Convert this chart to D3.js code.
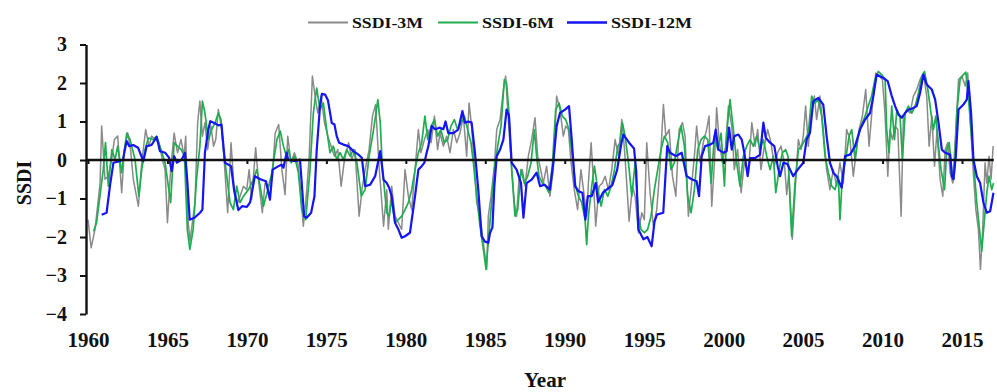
<!DOCTYPE html>
<html>
<head>
<meta charset="utf-8">
<script src="https://cdn.jsdelivr.net/npm/d3@7"></script>
<style>
  html, body { margin: 0; padding: 0; background: #fff; }
  svg { display: block; }
  text { font-family: "Liberation Serif", "Times New Roman", serif; font-weight: bold; fill: #111; }
</style>
</head>
<body>
<svg id="chart" width="997" height="392"></svg>
<script>
// ---------- data ----------
const xTickYears = [1960, 1965, 1970, 1975, 1980, 1985, 1990, 1995, 2000, 2005, 2010, 2015];
const yTickValues = [-4, -3, -2, -1, 0, 1, 2, 3];
const seriesNames = ["SSDI-3M", "SSDI-6M", "SSDI-12M"];
const seriesColors = ["#8a8a8a", "#1fae4f", "#1414f5"];

// [decimal year, SSDI]
const ssdi3M = [
[1960.0,-1.55],[1960.2,-2.28],[1960.44,-1.8],[1960.65,-1.03],[1960.76,-0.6],[1960.86,0.88],[1961.07,-0.5],[1961.28,-0.42],[1961.49,0.01],[1961.66,0.53],[1961.87,0.62],
[1962.12,-0.85],[1962.29,0.27],[1962.5,0.7],[1962.68,0.27],[1962.85,-0.5],[1963.17,-1.2],[1963.38,-0.07],[1963.63,0.79],[1963.84,0.36],[1964.0,0.62],[1964.25,0.53],
[1964.46,0.45],[1964.68,0.01],[1964.85,-0.25],[1965.0,-1.63],[1965.2,-0.25],[1965.42,0.7],[1965.63,0.19],[1965.85,0.53],[1966.05,0.1],[1966.15,0.62],[1966.27,-1.46],
[1966.42,-2.1],[1966.73,-1.11],[1966.9,0.97],[1967.04,1.53],[1967.2,0.62],[1967.36,0.97],[1967.53,0.27],[1967.74,0.88],[1967.9,0.36],[1968.04,0.53],[1968.2,1.31],
[1968.42,0.79],[1968.58,-0.07],[1968.79,-1.37],[1969.0,0.45],[1969.2,-0.77],[1969.42,-1.11],[1969.57,-0.94],[1969.78,-0.68],[1969.99,-0.77],[1970.14,-0.25],[1970.3,-1.03],
[1970.55,0.32],[1970.72,-0.5],[1970.97,-1.37],[1971.14,-0.6],[1971.36,-0.68],[1971.6,-0.42],[1971.78,0.7],[1972.0,0.92],[1972.2,-0.25],[1972.4,-0.9],[1972.57,0.62],
[1972.78,-0.07],[1972.99,0.19],[1973.2,-0.07],[1973.35,-0.68],[1973.55,-1.72],[1973.7,-1.11],[1973.91,0.01],[1974.12,2.18],[1974.29,1.66],[1974.46,1.22],[1974.67,1.66],
[1974.88,0.97],[1975.09,0.62],[1975.3,0.36],[1975.51,0.1],[1975.72,0.27],[1975.93,-0.68],[1976.14,0.01],[1976.4,0.45],[1976.6,0.01],[1976.8,0.27],[1977.06,-1.46],
[1977.27,-0.68],[1977.44,-0.25],[1977.69,0.27],[1977.9,1.14],[1978.1,1.44],[1978.3,-0.07],[1978.6,-1.72],[1978.8,-0.77],[1978.9,-1.8],[1979.11,-0.68],[1979.32,-1.46],
[1979.53,-1.63],[1979.74,-1.8],[1979.95,-0.25],[1980.16,-0.94],[1980.37,-1.29],[1980.58,-0.25],[1980.79,0.79],[1980.95,0.19],[1981.17,0.53],[1981.38,0.79],[1981.59,0.45],
[1981.8,1.14],[1982.0,0.27],[1982.15,0.7],[1982.36,0.36],[1982.57,0.62],[1982.78,0.19],[1982.99,0.79],[1983.2,0.45],[1983.41,0.7],[1983.62,1.14],[1983.83,0.1],
[1983.98,1.48],[1984.14,0.88],[1984.3,-0.07],[1984.46,-1.11],[1984.67,-1.46],[1984.88,-2.15],[1985.09,-2.84],[1985.19,-1.46],[1985.36,-0.94],[1985.57,-0.16],[1985.72,0.79],
[1985.93,1.05],[1986.14,1.83],[1986.28,2.18],[1986.45,1.05],[1986.62,0.01],[1986.83,-1.11],[1986.97,-1.46],[1987.12,-0.5],[1987.33,-0.25],[1987.5,-0.68],[1987.71,0.1],
[1987.92,0.53],[1988.13,1.1],[1988.3,0.1],[1988.44,-0.16],[1988.65,-0.6],[1988.86,-0.16],[1989.07,-0.94],[1989.28,-0.25],[1989.49,1.66],[1989.7,1.31],[1989.91,0.62],
[1990.06,0.88],[1990.23,0.79],[1990.4,-0.07],[1990.6,-0.77],[1990.81,-1.29],[1991.02,-0.25],[1991.23,-0.94],[1991.38,-1.46],[1991.49,-0.6],[1991.66,0.45],[1991.8,-0.5],
[1991.95,-1.72],[1992.16,-0.68],[1992.37,-0.6],[1992.54,-0.42],[1992.75,-0.77],[1992.96,-0.25],[1993.17,0.53],[1993.38,0.1],[1993.59,1.05],[1993.76,0.27],[1993.9,-0.6],
[1994.05,-1.59],[1994.26,-0.68],[1994.43,-0.94],[1994.64,-1.89],[1994.85,-1.37],[1995.01,-1.55],[1995.16,0.45],[1995.37,-0.85],[1995.58,-1.72],[1995.79,-1.29],[1996.0,-0.16],
[1996.21,1.44],[1996.36,0.62],[1996.57,0.79],[1996.78,-0.42],[1996.99,-0.94],[1997.2,0.79],[1997.41,0.97],[1997.57,0.62],[1997.78,-1.46],[1997.95,-0.77],[1998.16,0.1],
[1998.3,0.88],[1998.52,-0.07],[1998.72,0.45],[1998.93,0.79],[1999.08,1.14],[1999.25,-1.2],[1999.42,-0.07],[1999.56,1.36],[1999.71,0.53],[1999.92,-0.07],[2000.13,0.36],
[2000.3,1.4],[2000.51,0.88],[2000.67,-0.25],[2000.88,0.27],[2001.1,-0.85],[2001.3,-0.07],[2001.56,-0.33],[2001.77,0.97],[2001.98,0.36],[2002.14,0.79],[2002.35,-0.25],
[2002.56,0.36],[2002.77,0.79],[2002.98,0.45],[2003.19,-0.16],[2003.4,0.19],[2003.61,0.36],[2003.82,-0.07],[2003.97,-0.9],[2004.1,-0.33],[2004.32,-2.06],[2004.53,-0.6],
[2004.7,0.53],[2004.87,0.27],[2005.01,0.62],[2005.16,1.4],[2005.33,0.36],[2005.5,1.14],[2005.71,1.66],[2005.85,1.05],[2006.06,1.66],[2006.27,0.79],[2006.48,-0.25],
[2006.69,-0.77],[2006.9,-0.25],[2007.11,-0.68],[2007.32,-0.07],[2007.53,-0.6],[2007.74,0.79],[2007.95,0.53],[2008.16,-0.42],[2008.31,0.1],[2008.52,0.79],[2008.73,1.14],
[2008.94,1.83],[2009.15,0.36],[2009.36,1.4],[2009.57,2.26],[2009.78,2.18],[2009.99,2.09],[2010.15,1.22],[2010.33,-0.42],[2010.47,0.79],[2010.62,0.53],[2010.79,0.88],
[2010.96,0.79],[2011.17,-1.46],[2011.31,1.14],[2011.52,1.31],[2011.73,1.22],[2011.94,1.66],[2012.15,1.83],[2012.36,2.09],[2012.57,2.26],[2012.78,1.66],[2012.93,0.36],
[2013.1,1.14],[2013.27,-0.16],[2013.43,0.79],[2013.62,-0.5],[2013.79,-0.94],[2013.94,0.27],[2014.1,0.45],[2014.25,-0.33],[2014.42,-0.6],[2014.61,0.79],[2014.78,2.09],
[2014.99,2.18],[2015.2,1.92],[2015.36,2.26],[2015.53,0.97],[2015.7,-0.25],[2015.87,-1.29],[2016.03,-1.8],[2016.16,-2.84],[2016.3,-1.8],[2016.45,-0.07],[2016.56,-0.6],
[2016.7,0.1],[2016.83,-0.5],[2016.96,0.36]
];

const ssdi6M = [
[1960.35,-1.85],[1960.54,-1.63],[1960.75,-0.94],[1960.96,-0.25],[1961.1,0.45],[1961.28,-0.68],[1961.5,0.27],[1961.7,0.01],[1961.87,0.36],[1962.12,-0.33],[1962.29,0.27],
[1962.44,0.7],[1962.65,0.53],[1962.96,0.01],[1963.2,-0.94],[1963.38,-0.25],[1963.59,0.27],[1963.8,0.57],[1964.1,0.53],[1964.32,0.62],[1964.59,0.27],[1964.85,-0.07],
[1965.2,-1.11],[1965.42,0.45],[1965.63,0.36],[1965.87,0.27],[1966.07,0.1],[1966.25,-1.8],[1966.41,-2.32],[1966.62,-1.8],[1966.83,-0.5],[1967.04,0.36],[1967.2,1.53],
[1967.36,1.22],[1967.57,0.53],[1967.78,0.79],[1968.0,0.97],[1968.2,1.22],[1968.37,1.05],[1968.5,0.36],[1968.73,-0.42],[1968.94,-1.11],[1969.15,-1.29],[1969.36,-0.68],
[1969.57,-1.11],[1969.78,-0.94],[1970.1,-0.77],[1970.41,-0.5],[1970.62,-0.25],[1970.83,-0.68],[1971.04,-1.2],[1971.32,-0.77],[1971.57,-0.33],[1971.89,0.53],[1972.1,0.75],
[1972.3,0.36],[1972.5,0.1],[1972.6,0.27],[1972.8,-0.07],[1973.0,0.1],[1973.24,-0.33],[1973.45,-1.29],[1973.7,-1.55],[1973.97,-0.25],[1974.18,1.22],[1974.39,1.87],
[1974.6,1.31],[1974.81,1.48],[1975.02,0.79],[1975.23,0.19],[1975.44,0.36],[1975.65,0.01],[1975.86,0.19],[1976.07,0.01],[1976.28,0.27],[1976.5,0.1],[1976.7,0.27],
[1976.92,-0.07],[1977.2,-0.94],[1977.44,-0.77],[1977.69,0.1],[1977.97,0.79],[1978.24,1.57],[1978.39,0.97],[1978.53,-0.25],[1978.8,-1.37],[1978.95,-1.46],[1979.11,-1.03],
[1979.32,-1.63],[1979.53,-1.55],[1979.74,-1.46],[1979.95,-1.29],[1980.16,-1.11],[1980.37,-0.77],[1980.58,-0.25],[1980.79,0.19],[1981.0,0.45],[1981.2,1.14],[1981.38,0.53],
[1981.59,0.88],[1981.8,1.05],[1982.0,0.62],[1982.2,0.79],[1982.42,0.45],[1982.63,0.53],[1982.84,0.88],[1983.05,1.05],[1983.26,0.79],[1983.47,0.97],[1983.68,1.14],
[1983.89,0.79],[1984.1,0.45],[1984.25,-0.07],[1984.46,-0.94],[1984.67,-1.72],[1984.88,-2.32],[1985.05,-2.84],[1985.15,-2.32],[1985.36,-1.29],[1985.57,-0.25],[1985.78,0.36],
[1985.99,0.88],[1986.2,2.09],[1986.34,2.0],[1986.49,1.22],[1986.66,-0.25],[1986.87,-1.46],[1987.04,-1.29],[1987.25,-0.25],[1987.46,-0.6],[1987.67,-0.42],[1987.88,-0.07],
[1988.09,0.79],[1988.23,0.1],[1988.38,-0.42],[1988.59,-0.6],[1988.8,-0.68],[1989.0,-0.85],[1989.22,-0.16],[1989.43,1.31],[1989.64,1.48],[1989.85,1.14],[1990.06,1.05],
[1990.27,0.79],[1990.48,0.1],[1990.69,-0.68],[1990.86,-0.94],[1991.07,-1.11],[1991.28,-1.55],[1991.38,-2.2],[1991.49,-1.46],[1991.7,-0.68],[1991.87,-0.16],[1992.08,-0.77],
[1992.29,-1.2],[1992.5,-0.77],[1992.71,-0.94],[1992.92,-0.68],[1993.13,-0.25],[1993.34,0.36],[1993.48,0.45],[1993.63,0.97],[1993.8,0.62],[1994.01,-0.07],[1994.22,-0.94],
[1994.43,-0.07],[1994.64,-1.46],[1994.8,-1.8],[1995.01,-1.89],[1995.22,-1.8],[1995.43,-1.46],[1995.64,-0.77],[1995.85,-0.25],[1996.06,0.27],[1996.27,0.62],[1996.48,0.45],
[1996.69,-0.25],[1996.9,-0.07],[1997.11,0.45],[1997.32,0.88],[1997.53,0.36],[1997.74,-0.94],[1997.95,-1.37],[1998.16,-0.77],[1998.37,0.27],[1998.58,0.53],[1998.79,0.62],
[1999.0,0.53],[1999.21,-0.6],[1999.42,0.62],[1999.63,0.27],[1999.84,0.7],[2000.05,-0.68],[2000.19,0.7],[2000.4,1.57],[2000.61,0.79],[2000.82,-0.07],[2001.03,-0.68],
[2001.24,0.1],[2001.45,0.36],[2001.66,0.53],[2001.87,0.36],[2002.08,0.62],[2002.29,0.27],[2002.5,0.53],[2002.71,0.1],[2002.92,-0.25],[2003.13,0.1],[2003.28,-0.85],
[2003.49,-0.25],[2003.7,0.19],[2003.9,0.27],[2004.05,0.1],[2004.28,-1.98],[2004.49,-0.6],[2004.7,0.27],[2004.91,0.36],[2005.12,0.53],[2005.33,0.7],[2005.54,1.66],
[2005.75,1.48],[2005.96,1.57],[2006.17,1.14],[2006.38,0.1],[2006.59,-0.33],[2006.8,-0.68],[2007.01,-0.77],[2007.22,-0.42],[2007.32,-1.55],[2007.47,-0.42],[2007.68,0.01],
[2007.89,0.62],[2008.06,0.79],[2008.27,0.01],[2008.43,0.53],[2008.64,0.88],[2008.9,1.14],[2009.1,1.4],[2009.31,1.66],[2009.52,2.09],[2009.73,2.3],[2009.94,2.22],
[2010.16,2.09],[2010.26,0.79],[2010.41,0.19],[2010.58,1.4],[2010.75,0.53],[2010.9,1.31],[2011.1,1.14],[2011.25,0.01],[2011.42,1.22],[2011.63,1.4],[2011.84,1.22],
[2012.05,1.4],[2012.26,1.74],[2012.47,2.18],[2012.64,2.3],[2012.85,1.83],[2013.05,1.22],[2013.2,0.79],[2013.35,1.14],[2013.52,0.36],[2013.68,-0.25],[2013.9,-0.77],
[2014.04,0.27],[2014.19,0.45],[2014.36,-0.25],[2014.5,-0.5],[2014.67,1.22],[2014.88,2.09],[2015.09,2.22],[2015.24,2.28],[2015.4,1.66],[2015.61,0.53],[2015.78,-0.33],
[2015.93,-1.11],[2016.1,-1.8],[2016.24,-2.37],[2016.41,-1.55],[2016.56,-0.85],[2016.7,-0.42],[2016.87,-0.77],[2016.98,-0.6]
];

const ssdi12M = [
[1960.86,-1.42],[1961.17,-1.37],[1961.38,-0.68],[1961.6,-0.07],[1962.0,-0.03],[1962.2,0.01],[1962.43,0.49],[1962.6,0.36],[1962.85,0.39],[1963.15,0.32],[1963.48,-0.03],
[1963.69,0.36],[1964.0,0.39],[1964.32,0.6],[1964.53,0.23],[1964.85,0.19],[1965.1,0.06],[1965.27,-0.29],[1965.42,0.1],[1965.6,-0.07],[1965.9,0.01],[1966.1,0.19],
[1966.25,-0.55],[1966.4,-1.55],[1966.7,-1.5],[1967.05,-1.37],[1967.2,-1.29],[1967.36,0.2],[1967.57,0.79],[1967.7,1.01],[1968.0,0.95],[1968.2,0.9],[1968.4,0.92],
[1968.62,-0.07],[1969.0,-0.16],[1969.2,-0.8],[1969.46,-1.3],[1969.7,-1.2],[1970.0,-1.22],[1970.2,-1.1],[1970.5,-0.42],[1970.85,-0.5],[1971.2,-0.55],[1971.45,-1.03],
[1971.62,-0.25],[1971.98,-0.16],[1972.18,-0.12],[1972.3,-0.2],[1972.5,0.19],[1972.6,0.0],[1973.03,-0.03],[1973.34,0.01],[1973.45,-0.6],[1973.6,-1.46],[1973.76,-1.5],
[1974.04,-1.37],[1974.25,-0.94],[1974.39,0.25],[1974.6,1.4],[1974.72,1.72],[1974.92,1.7],[1975.1,1.55],[1975.34,0.96],[1975.51,0.92],[1975.65,0.62],[1975.8,0.45],
[1976.07,0.4],[1976.38,0.36],[1976.7,0.23],[1977.02,0.14],[1977.23,0.06],[1977.44,-0.68],[1977.76,-0.64],[1978.07,-0.42],[1978.39,0.23],[1978.6,-0.51],[1978.8,-0.6],
[1978.95,-0.72],[1979.11,-0.94],[1979.32,-1.63],[1979.53,-1.8],[1979.74,-2.02],[1979.95,-1.98],[1980.26,-1.89],[1980.58,-0.94],[1980.79,-0.25],[1981.0,-0.16],[1981.17,-0.07],
[1981.31,0.19],[1981.42,0.36],[1981.63,0.88],[1981.84,0.8],[1982.15,0.84],[1982.36,0.8],[1982.5,1.0],[1982.67,0.7],[1982.99,0.7],[1983.3,0.79],[1983.56,1.27],
[1983.72,0.97],[1983.93,1.0],[1984.14,0.97],[1984.35,0.19],[1984.56,-0.77],[1984.77,-1.98],[1984.98,-2.12],[1985.19,-2.15],[1985.3,-1.89],[1985.45,-1.75],[1985.57,-0.68],
[1985.72,0.1],[1985.93,0.27],[1986.14,0.53],[1986.34,1.31],[1986.49,1.15],[1986.66,-0.07],[1986.97,-0.25],[1987.25,-0.6],[1987.4,-1.5],[1987.6,-0.6],[1987.92,-0.51],
[1988.23,-0.33],[1988.45,-0.68],[1988.72,-0.64],[1989.07,-0.77],[1989.28,-0.07],[1989.49,0.88],[1989.7,1.22],[1990.02,1.31],[1990.27,1.4],[1990.44,0.53],[1990.65,-0.68],
[1990.86,-0.81],[1991.11,-0.85],[1991.3,-1.55],[1991.45,-0.94],[1991.7,-0.94],[1991.95,-0.6],[1992.1,-1.1],[1992.4,-0.85],[1992.7,-0.75],[1993.0,-0.65],[1993.3,-0.25],
[1993.55,0.4],[1993.69,0.66],[1994.05,0.45],[1994.36,0.3],[1994.5,-0.3],[1994.63,-1.8],[1994.95,-2.06],[1995.2,-2.0],[1995.47,-2.24],[1995.65,-1.6],[1995.8,-1.42],
[1996.2,-1.37],[1996.45,0.36],[1996.63,0.19],[1997.0,0.1],[1997.36,0.19],[1997.67,-0.42],[1997.99,-0.5],[1998.3,-0.55],[1998.45,-0.94],[1998.62,0.1],[1998.83,0.36],
[1999.14,0.4],[1999.35,0.45],[1999.5,0.79],[1999.67,0.27],[1999.98,0.19],[2000.19,0.23],[2000.34,0.84],[2000.51,0.27],[2000.67,0.62],[2000.93,0.66],[2001.14,0.53],
[2001.3,0.19],[2001.51,-0.42],[2001.66,0.05],[2001.98,0.05],[2002.29,0.14],[2002.5,0.97],[2002.65,0.58],[2002.92,0.45],[2003.19,0.36],[2003.4,-0.16],[2003.55,-0.42],
[2003.76,-0.07],[2004.0,-0.1],[2004.38,-0.42],[2004.66,-0.25],[2005.01,-0.07],[2005.22,0.53],[2005.43,0.7],[2005.64,1.53],[2005.96,1.61],[2006.27,1.44],[2006.48,0.62],
[2006.69,-0.07],[2006.9,-0.33],[2007.11,-0.42],[2007.43,-0.72],[2007.64,0.1],[2007.95,0.14],[2008.27,0.36],[2008.58,0.79],[2008.9,1.05],[2009.21,1.22],[2009.42,1.66],
[2009.63,2.22],[2010.05,2.13],[2010.32,2.05],[2010.58,1.66],[2010.79,1.4],[2011.0,1.18],[2011.21,1.1],[2011.42,1.22],[2011.63,1.31],[2011.84,1.33],[2012.15,1.4],
[2012.36,1.74],[2012.57,2.22],[2012.78,1.96],[2013.1,1.83],[2013.31,1.57],[2013.52,0.97],[2013.73,0.27],[2013.94,0.19],[2014.25,0.14],[2014.36,-0.42],[2014.46,-0.5],
[2014.61,0.1],[2014.78,1.31],[2015.09,1.44],[2015.3,1.57],[2015.4,2.05],[2015.57,1.22],[2015.72,0.01],[2015.93,-0.42],[2016.14,-0.6],[2016.35,-1.11],[2016.56,-1.37],
[2016.77,-1.33],[2016.98,-0.85]
];

// ---------- drawing ----------
const svg = d3.select("#chart");
const x = d3.scaleLinear().domain([1960, 2017]).range([88, 993.8]);
const y = d3.scaleLinear().domain([-4, 3]).range([314, 44.5]);
const axisX0 = 86;

const line = d3.line().x(d => x(d[0])).y(d => y(d[1]));

const allSeries = [ssdi3M, ssdi6M, ssdi12M];
const widths = [1.5, 1.7, 2.2];

// series lines
allSeries.forEach((s, i) => {
  svg.append("path")
    .datum(s)
    .attr("fill", "none")
    .attr("stroke", seriesColors[i])
    .attr("stroke-width", widths[i])
    .attr("stroke-linejoin", "round")
    .attr("d", line);
});

// zero line with ticks (x axis)
const xAxisZero = d3.axisBottom(x)
  .tickValues(xTickYears)
  .tickSize(4)
  .tickFormat("")
  .tickSizeOuter(0);
const gz = svg.append("g").attr("transform", `translate(0,${y(0)})`).call(xAxisZero);
gz.select(".domain").attr("stroke", "#111").attr("stroke-width", 2.6)
  .attr("d", `M${axisX0},0H${x(2017)}`);
gz.selectAll(".tick line").attr("stroke", "#111").attr("stroke-width", 2);

// x tick labels at the bottom
const xAxisLabels = d3.axisBottom(x)
  .tickValues(xTickYears)
  .tickSize(0)
  .tickPadding(0)
  .tickFormat(d3.format("d"));
const gl = svg.append("g").attr("transform", "translate(0,332)").call(xAxisLabels);
gl.select(".domain").remove();
gl.selectAll("text")
  .style("font-family", '"Liberation Serif", "Times New Roman", serif')
  .style("font-weight", "bold")
  .style("font-size", "21px")
  .attr("fill", "#111");

// y axis
const yAxis = d3.axisLeft(y)
  .tickValues(yTickValues)
  .tickSize(6)
  .tickPadding(13)
  .tickSizeOuter(0)
  .tickFormat(d3.format("d"));
const gy = svg.append("g").attr("transform", `translate(${axisX0},0)`).call(yAxis);
gy.select(".domain").attr("stroke", "#111").attr("stroke-width", 2.4);
gy.selectAll(".tick line").attr("stroke", "#111").attr("stroke-width", 2);
gy.selectAll("text")
  .style("font-family", '"Liberation Serif", "Times New Roman", serif')
  .style("font-weight", "bold")
  .style("font-size", "20px")
  .attr("fill", "#111");

// axis titles
svg.append("text")
  .attr("transform", "translate(31,183) rotate(-90)")
  .attr("text-anchor", "middle")
  .style("font-size", "20px")
  .text("SSDI");

svg.append("text")
  .attr("x", 545)
  .attr("y", 387)
  .attr("text-anchor", "middle")
  .style("font-size", "21px")
  .text("Year");

// legend
const legendLineX = [308, 438, 567];
const legendTextLen = [71, 72, 81];
const legY = 22.5;
seriesNames.forEach((name, i) => {
  svg.append("line")
    .attr("x1", legendLineX[i]).attr("x2", legendLineX[i] + 40)
    .attr("y1", legY).attr("y2", legY)
    .attr("stroke", seriesColors[i])
    .attr("stroke-width", widths[i] + 0.3);
  svg.append("text")
    .attr("x", legendLineX[i] + 44)
    .attr("y", legY + 5)
    .attr("textLength", legendTextLen[i])
    .attr("lengthAdjust", "spacingAndGlyphs")
    .style("font-size", "15px")
    .text(name);
});
</script>
</body>
</html>
